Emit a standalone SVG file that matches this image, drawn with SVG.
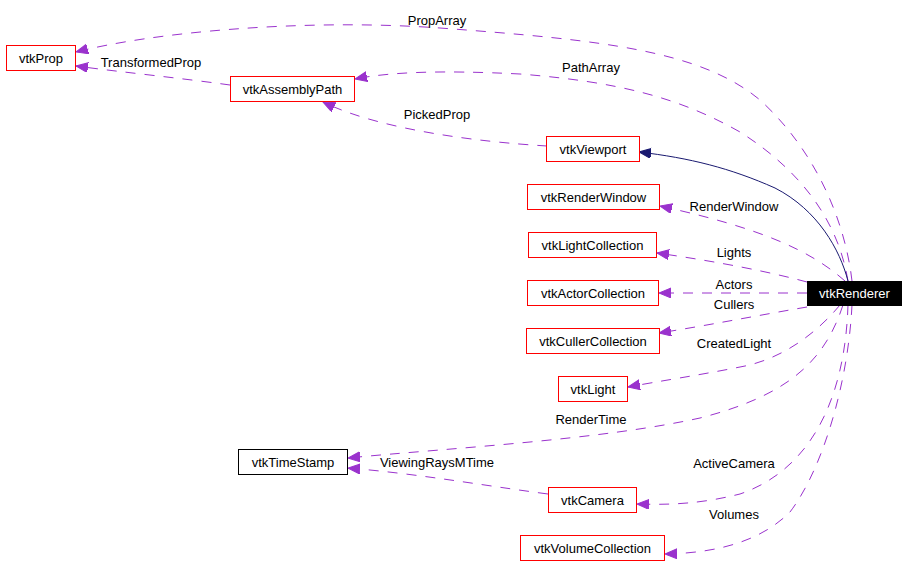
<svg xmlns="http://www.w3.org/2000/svg" width="907" height="576" viewBox="0 0 907 576">
<style>
.box{fill:#ffffff;stroke:#ff0000;stroke-width:1}
.box2{fill:#ffffff;stroke:#000000;stroke-width:1}
.t{font-family:"Liberation Sans",Arial,sans-serif;font-size:13px;fill:#000000;text-anchor:middle}
.e{fill:none;stroke:#9a32cd;stroke-width:1;stroke-dasharray:10,9}
.inh{fill:none;stroke:#191970;stroke-width:1}
</style>
<defs>
<marker id="ap" markerUnits="userSpaceOnUse" markerWidth="14" markerHeight="12" refX="12" refY="5" orient="auto">
<path d="M0,0 L12,5 L0,10 z" fill="#9a32cd" stroke="#9a32cd"/>
</marker>
<marker id="an" markerUnits="userSpaceOnUse" markerWidth="14" markerHeight="12" refX="12" refY="5" orient="auto">
<path d="M0,0 L12,5 L0,10 z" fill="#191970" stroke="#191970"/>
</marker>
</defs>
<rect x="0" y="0" width="907" height="576" fill="#ffffff"/>
<g id="edges">
<path class="e" marker-end="url(#ap)" d="M852,281 C845,220 815,150 760,100 C700,50 600,40 440,28 C300,18 150,33 76,52"/>
<path class="e" marker-end="url(#ap)" d="M848,281 C838,220 800,170 740,132 C680,98 620,82 520,74 C440,70 390,72 355,79"/>
<path class="inh" marker-end="url(#an)" d="M848,281 C840,250 818,210 775,188 C730,168 690,158 639,152"/>
<path class="e" marker-end="url(#ap)" d="M845,281 C810,250 760,228 660,206"/>
<path class="e" marker-end="url(#ap)" d="M807,282 C770,272 720,262 657,253"/>
<path class="e" marker-end="url(#ap)" d="M807,293 L659,293"/>
<path class="e" marker-end="url(#ap)" d="M807,307 C760,315 710,325 659,333"/>
<path class="e" marker-end="url(#ap)" d="M840,305 C815,335 780,360 740,367 C700,375 660,381 628,387"/>
<path class="e" marker-end="url(#ap)" d="M843,305 C825,360 790,395 700,418 C600,440 450,448 348,458"/>
<path class="e" marker-end="url(#ap)" d="M548,494 C480,485 420,474 348,468"/>
<path class="e" marker-end="url(#ap)" d="M848,305 C845,400 810,470 740,494 C700,504 670,505 637,504"/>
<path class="e" marker-end="url(#ap)" d="M852,305 C848,385 822,470 790,512 C762,540 720,553 665,554"/>
<path class="e" marker-end="url(#ap)" d="M547,146 C480,142 380,130 323,102"/>
<path class="e" marker-end="url(#ap)" d="M230,85 C180,78 120,72 76,66"/>
<text class="t" x="437" y="25">PropArray</text>
<text class="t" x="151" y="67">TransformedProp</text>
<text class="t" x="591" y="72">PathArray</text>
<text class="t" x="437" y="119">PickedProp</text>
<text class="t" x="734" y="211">RenderWindow</text>
<text class="t" x="734" y="257">Lights</text>
<text class="t" x="734" y="289">Actors</text>
<text class="t" x="734" y="309">Cullers</text>
<text class="t" x="734" y="348">CreatedLight</text>
<text class="t" x="591" y="424">RenderTime</text>
<text class="t" x="437" y="467">ViewingRaysMTime</text>
<text class="t" x="734" y="468">ActiveCamera</text>
<text class="t" x="734" y="519">Volumes</text>
</g>
<g id="vtkProp"><rect class="box" x="6.5" y="45.5" width="69" height="25"/><text class="t" x="41" y="62.5">vtkProp</text></g>
<g id="vtkAssemblyPath"><rect class="box" x="230.5" y="76.5" width="124" height="25"/><text class="t" x="292.5" y="93.5">vtkAssemblyPath</text></g>
<g id="vtkViewport"><rect class="box" x="546.5" y="136.5" width="93" height="25"/><text class="t" x="593" y="153.5">vtkViewport</text></g>
<g id="vtkRenderWindow"><rect class="box" x="527.5" y="184.5" width="132" height="25"/><text class="t" x="593.5" y="201.5">vtkRenderWindow</text></g>
<g id="vtkLightCollection"><rect class="box" x="528.5" y="232.5" width="128" height="25"/><text class="t" x="592.5" y="249.5">vtkLightCollection</text></g>
<g id="vtkActorCollection"><rect class="box" x="527.5" y="280.5" width="131" height="25"/><text class="t" x="593" y="297.5">vtkActorCollection</text></g>
<g id="vtkCullerCollection"><rect class="box" x="526.5" y="328.5" width="133" height="25"/><text class="t" x="593" y="345.5">vtkCullerCollection</text></g>
<g id="vtkLight"><rect class="box" x="558.5" y="376.5" width="69" height="25"/><text class="t" x="593" y="393.5">vtkLight</text></g>
<g id="vtkRenderer"><rect x="807" y="281" width="95" height="25" fill="#000000"/><text class="t" x="854.5" y="298" style="fill:#ffffff">vtkRenderer</text></g>
<g id="vtkTimeStamp"><rect class="box2" x="238.5" y="449.5" width="109" height="25"/><text class="t" x="293" y="466.5">vtkTimeStamp</text></g>
<g id="vtkCamera"><rect class="box" x="548.5" y="487.5" width="88" height="25"/><text class="t" x="592.5" y="504.5">vtkCamera</text></g>
<g id="vtkVolumeCollection"><rect class="box" x="520.5" y="535.5" width="144" height="25"/><text class="t" x="592.5" y="552.5">vtkVolumeCollection</text></g>
</svg>
